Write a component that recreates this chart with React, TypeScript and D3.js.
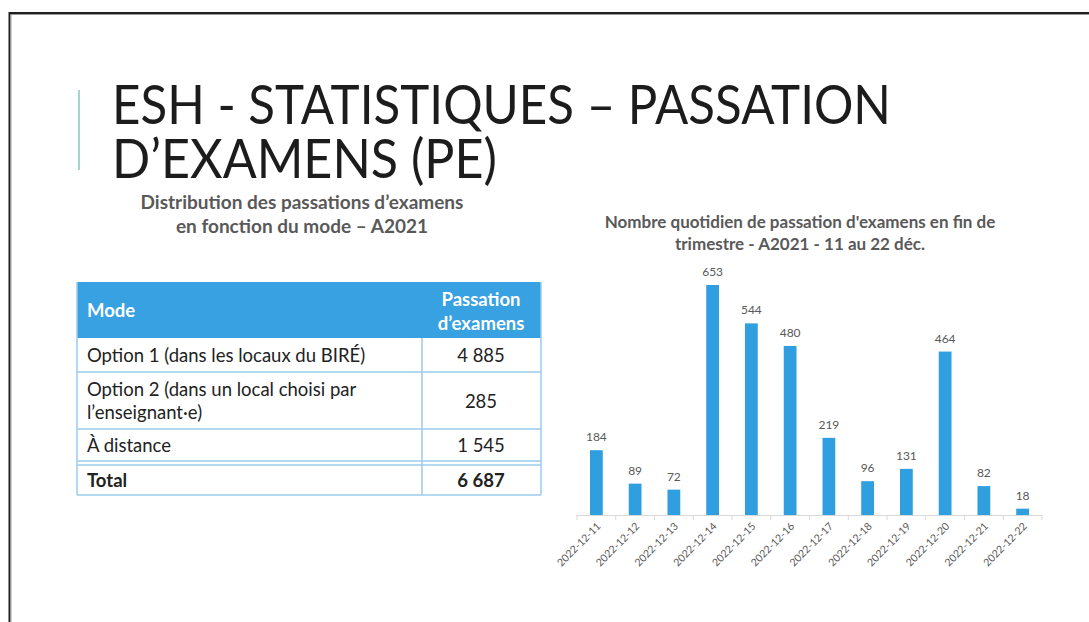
import React from "react";
import * as d3 from "d3";

const dates = ["2022-12-11","2022-12-12","2022-12-13","2022-12-14","2022-12-15","2022-12-16","2022-12-17","2022-12-18","2022-12-19","2022-12-20","2022-12-21","2022-12-22"];
const values = [184, 89, 72, 653, 544, 480, 219, 96, 131, 464, 82, 18];

const modeLabels = [["Option 1 (dans les locaux du BIRÉ)"], ["Option 2 (dans un local choisi par", "l’enseignant·e)"], ["À distance"]];
const modeCounts = ["4 885", "285", "1 545"];
const totalLabel = "Total";
const totalCount = "6 687";

const titleLines = ["ESH - STATISTIQUES – PASSATION", "D’EXAMENS (PE)"];
const titleWidths = [779, 385];
const tableTitle = ["Distribution des passations d’examens", "en fonction du mode – A2021"];
const chartTitle = ["Nombre quotidien de passation d'examens en fin de", "trimestre - A2021 - 11 au 22 déc."];
const headerCols = ["Mode", ["Passation", "d’examens"]];

const W = 1089, H = 622;
const FONT = "Lato, 'Open Sans', sans-serif";
const BLUE = "#2f9fe0";
const GRAY = "#595959";
const LINE = "#9ccbee";

export default function App() {
  const x = d3.scaleBand<string>().domain(dates).range([577, 1042]).paddingInner(0.67).paddingOuter(0.335);
  const y = d3.scaleLinear().domain([0, 653]).range([515, 285]);
  const ticks = d3.range(dates.length + 1).map(i => 577 + i * (465 / dates.length));

  const tx0 = 77, tx1 = 541, tcol = 422;
  const rowY = [282, 338, 372, 429, 461];
  const totY0 = 465, totY1 = 495;
  const FS = 18.5;

  return (
    <svg width={W} height={H} style={{ position: "absolute", left: 0, top: 0, background: "#fff" }} fontFamily={FONT}>
      <rect x={0} y={0} width={W} height={H} fill="#fff" />
      {/* frame */}
      <line x1={9} y1={13} x2={W} y2={13} stroke="#1e1e1e" strokeWidth={2} />
      <line x1={10} y1={14.5} x2={W} y2={14.5} stroke="#9a9a9a" strokeWidth={1} />
      <line x1={9.5} y1={12} x2={9.5} y2={H} stroke="#1e1e1e" strokeWidth={2} />
      <line x1={11} y1={14} x2={11} y2={H} stroke="#a0a0a0" strokeWidth={1} />

      {/* accent line */}
      <line x1={79} y1={90} x2={79} y2={170} stroke="#a8d3d2" strokeWidth={2} />

      {/* main title */}
      {titleLines.map((t, i) => (
        <text key={i} x={112} y={124 + i * 54} fontWeight={400} fontSize={55} fill="#1c1c1c"
          textLength={titleWidths[i]} lengthAdjust="spacingAndGlyphs">{t}</text>
      ))}

      {/* table title */}
      {tableTitle.map((t, i) => (
        <text key={i} x={302} y={209 + i * 24} textAnchor="middle" fontWeight={700} fontSize={19} fill={GRAY}>{t}</text>
      ))}

      {/* table */}
      <rect x={tx0} y={rowY[0]} width={tx1 - tx0} height={rowY[1] - rowY[0]} fill="#38a1e2" />
      <text x={87} y={316.5} fill="#fff" fontWeight={700} fontSize={FS}>{headerCols[0] as string}</text>
      {(headerCols[1] as string[]).map((t, i) => (
        <text key={i} x={481} y={305.5 + i * 24} textAnchor="middle" fill="#fff" fontWeight={700} fontSize={FS}>{t}</text>
      ))}
      {modeLabels.map((lines, r) => {
        const y0 = rowY[r + 1], y1 = rowY[r + 2];
        const cy = (y0 + y1) / 2;
        return (
          <g key={r}>
            {lines.map((t, i) => (
              <text key={i} x={87} y={cy + 7 + (i - (lines.length - 1) / 2) * 23} fontSize={FS} fill="#222">{t}</text>
            ))}
            <text x={481} y={cy + 7} textAnchor="middle" fontSize={FS} fill="#222">{modeCounts[r]}</text>
          </g>
        );
      })}
      <text x={87} y={487} fontWeight={700} fontSize={FS} fill="#222">{totalLabel}</text>
      <text x={481} y={487} textAnchor="middle" fontWeight={700} fontSize={FS} fill="#222">{totalCount}</text>
      {rowY.slice(2).map((yy, i) => (
        <line key={i} x1={tx0} x2={tx1} y1={yy} y2={yy} stroke={LINE} strokeWidth={1.5} />
      ))}
      <line x1={tx0} x2={tx1} y1={totY0} y2={totY0} stroke={LINE} strokeWidth={1.5} />
      <line x1={tx0} x2={tx1} y1={totY1} y2={totY1} stroke={LINE} strokeWidth={1.5} />
      <line x1={tx0} x2={tx0} y1={rowY[0]} y2={totY1} stroke={LINE} strokeWidth={1.5} />
      <line x1={tx1} x2={tx1} y1={rowY[0]} y2={totY1} stroke={LINE} strokeWidth={1.5} />
      <line x1={tcol} x2={tcol} y1={rowY[1]} y2={totY1} stroke={LINE} strokeWidth={1.5} />

      {/* chart title */}
      {chartTitle.map((t, i) => (
        <text key={i} x={800} y={228 + i * 22} textAnchor="middle" fontWeight={700} fontSize={17} fill={GRAY}>{t}</text>
      ))}

      {/* bars */}
      {dates.map((d, i) => (
        <g key={d}>
          <rect x={x(d)} y={y(values[i])} width={x.bandwidth()} height={y(0) - y(values[i])} fill={BLUE} />
          <text x={(x(d) as number) + x.bandwidth() / 2} y={y(values[i]) - 9} textAnchor="middle" fontSize={12} fill={GRAY}>{values[i]}</text>
          <text transform={`translate(${(x(d) as number) + x.bandwidth() / 2 + 5},${527}) rotate(-45)`} textAnchor="end" fontSize={10.5} fill={GRAY}>{d}</text>
        </g>
      ))}
      <line x1={577} x2={1042} y1={515.5} y2={515.5} stroke="#d9d9d9" strokeWidth={1} />
      {ticks.map((tx, i) => (
        <line key={i} x1={tx} x2={tx} y1={515} y2={520} stroke="#d9d9d9" strokeWidth={1} />
      ))}
    </svg>
  );
}
